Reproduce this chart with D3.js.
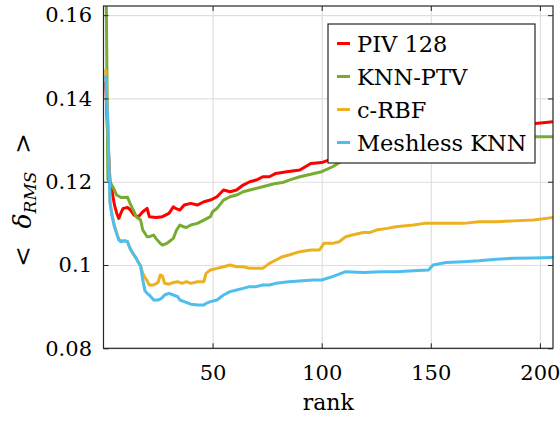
<!DOCTYPE html>
<html>
<head>
<meta charset="utf-8">
<script src="https://cdn.jsdelivr.net/npm/d3@7"></script>
<style>
  html, body { margin: 0; padding: 0; background: #fff; }
  svg { display: block; }
</style>
</head>
<body>
<svg id="chart" width="560" height="421"></svg>
<script>
// ---- data (rank, <delta_RMS>) ----
const seriesNames = ["PIV 128", "KNN-PTV", "c-RBF", "Meshless KNN"];
const seriesColors = ["#FF0000", "#77AC30", "#EDB120", "#4DBEEE"];

const piv128 = [[1,0.1440],[2,0.1300],[3,0.1200],[4,0.1175],[5,0.1145],[6,0.1125],[7,0.1112],[8,0.1125],[9,0.1136],[11,0.1138],[12,0.1134],[14,0.1120],[16,0.1116],[18,0.1128],[20,0.1136],[21,0.1116],[24,0.1114],[27,0.1116],[30,0.1124],[32,0.1140],[33,0.1136],[35,0.1132],[37,0.1144],[40,0.1148],[43,0.1144],[46,0.1152],[49,0.1156],[52,0.1164],[55,0.1180],[58,0.1176],[61,0.1180],[64,0.1192],[67,0.1200],[70,0.1204],[73,0.1212],[76,0.1212],[79,0.1220],[84,0.1224],[90,0.1228],[95,0.1244],[100,0.1246],[110,0.1265],[130,0.1290],[150,0.1310],[170,0.1325],[190,0.1335],[198,0.1340],[206,0.1344]];

const knnPtv = [[1,0.1800],[2,0.1205],[3,0.1200],[4,0.1190],[5,0.1180],[6,0.1168],[8,0.1162],[11,0.1163],[12,0.1150],[14,0.1128],[15,0.1116],[17,0.1108],[18,0.1084],[20,0.1068],[21,0.1068],[23,0.1072],[24,0.1064],[26,0.1052],[27,0.1048],[29,0.1052],[30,0.1056],[32,0.1064],[33.5,0.1084],[35,0.1096],[36.6,0.1092],[38,0.1090],[40,0.1096],[43,0.1100],[46,0.1108],[49,0.1116],[50,0.1128],[52,0.1136],[55,0.1156],[58,0.1164],[61,0.1168],[64,0.1176],[67,0.1180],[70,0.1184],[73,0.1188],[76,0.1192],[79,0.1196],[82,0.1198],[85,0.1204],[90,0.1212],[95,0.1218],[100,0.1224],[105,0.1236],[110,0.1252],[130,0.1275],[150,0.1290],[175,0.1302],[197,0.1308],[206,0.1308]];

const cRbf = [[1,0.1470],[2,0.1340],[3,0.1150],[4,0.1118],[5,0.1095],[6,0.1078],[7,0.1062],[8,0.1058],[10,0.1058],[11,0.1056],[12,0.1042],[13,0.1032],[15,0.1016],[16,0.1006],[17,0.0998],[18,0.0980],[19,0.0970],[20,0.0962],[21,0.0952],[23,0.0952],[25,0.0958],[26,0.0976],[27,0.0974],[28,0.0956],[30,0.0954],[32,0.0958],[34,0.0960],[36,0.0956],[38,0.0960],[40,0.0956],[43,0.0960],[46,0.0960],[47,0.0980],[49,0.0988],[52,0.0992],[55,0.0996],[58,0.1000],[61,0.0996],[64,0.0996],[67,0.0992],[70,0.0992],[73,0.0992],[76,0.1004],[79,0.1012],[82,0.1020],[85,0.1024],[90,0.1032],[95,0.1036],[99,0.1036],[101,0.1052],[105,0.1052],[108,0.1056],[111,0.1068],[114,0.1072],[119,0.1078],[122,0.1078],[125,0.1084],[130,0.1088],[134,0.1092],[142,0.1096],[147,0.1100],[157,0.1100],[165,0.1100],[172,0.1104],[180,0.1104],[188,0.1106],[197,0.1108],[203,0.1112],[206,0.1114]];

const meshlessKnn = [[1,0.1455],[2,0.1340],[3,0.1148],[4,0.1116],[5,0.1092],[6,0.1076],[7,0.1060],[8,0.1056],[10,0.1058],[11,0.1056],[12,0.1042],[13,0.1032],[15,0.1016],[16,0.1006],[17,0.0998],[18,0.0964],[19,0.0938],[20,0.0932],[21,0.0928],[23,0.0916],[25,0.0916],[26,0.0918],[27,0.0922],[28,0.0928],[30,0.0932],[32,0.0928],[34,0.0924],[35,0.0916],[37,0.0912],[40,0.0906],[43,0.0904],[46,0.0904],[47,0.0908],[49,0.0912],[52,0.0916],[55,0.0928],[58,0.0936],[61,0.0940],[64,0.0944],[67,0.0948],[70,0.0948],[73,0.0952],[76,0.0952],[79,0.0956],[85,0.0960],[96,0.0964],[100,0.0964],[105,0.0972],[111,0.0984],[119,0.0982],[127,0.0984],[134,0.0984],[142,0.0986],[149,0.0988],[151,0.1000],[157,0.1006],[165,0.1008],[172,0.1010],[180,0.1014],[188,0.1016],[197,0.1017],[206,0.1018]];

const xTicks = [50, 100, 150, 200];
const yTicks = [0.08, 0.1, 0.12, 0.14, 0.16];
const yTickLabels = ["0.08", "0.1", "0.12", "0.14", "0.16"];
const xDomain = [0, 206];
const yDomain = [0.08, 0.1622];

(function () {
const FONT = "DejaVu Serif";
const svg = d3.select("#chart");
const pl = 103.5, pr = 553, pt = 6, pb = 348.3;
const x = d3.scaleLinear().domain(xDomain).range([pl, pr]);
const y = d3.scaleLinear().domain(yDomain).range([pb, pt]);
const axisColor = "#262626";

svg.append("rect").attr("width", 560).attr("height", 421).attr("fill", "#fff");

// grid
svg.append("g").attr("transform", `translate(0,${pb})`)
  .call(d3.axisBottom(x).tickValues(xTicks).tickSize(-(pb - pt)).tickFormat(""))
  .call(g => g.select(".domain").remove())
  .call(g => g.selectAll("line").attr("stroke", "#dfdfdf").attr("stroke-width", 1.2));
svg.append("g").attr("transform", `translate(${pl},0)`)
  .call(d3.axisLeft(y).tickValues(yTicks).tickSize(-(pr - pl)).tickFormat(""))
  .call(g => g.select(".domain").remove())
  .call(g => g.selectAll("line").attr("stroke", "#dfdfdf").attr("stroke-width", 1.2));

// lines
svg.append("clipPath").attr("id", "plotclip")
  .append("rect").attr("x", pl).attr("y", pt).attr("width", pr - pl).attr("height", pb - pt);

const line = d3.line().x(d => x(d[0])).y(d => y(d[1]));
const allSeries = [piv128, knnPtv, cRbf, meshlessKnn];
const lg = svg.append("g").attr("clip-path", "url(#plotclip)");
allSeries.forEach((s, i) => {
  lg.append("path").datum(s).attr("d", line)
    .attr("fill", "none").attr("stroke", seriesColors[i])
    .attr("stroke-width", 3).attr("stroke-linejoin", "round").attr("stroke-linecap", "butt");
});

// axes
const tickLen = 5;
const fontSize = 21;
svg.append("g").attr("transform", `translate(0,${pb})`)
  .call(d3.axisBottom(x).tickValues(xTicks).tickSizeInner(-tickLen).tickSizeOuter(0).tickPadding(17))
  .attr("font-family", FONT).attr("font-size", fontSize)
  .call(g => g.select(".domain").remove())
  .call(g => g.selectAll("line").attr("stroke", axisColor))
  .call(g => g.selectAll("text").attr("fill", "#000"));
svg.append("g").attr("transform", `translate(${pl},0)`)
  .call(d3.axisLeft(y).tickValues(yTicks).tickFormat((d, i) => yTickLabels[i]).tickSizeInner(-tickLen).tickSizeOuter(0).tickPadding(11.5))
  .attr("font-family", FONT).attr("font-size", fontSize)
  .call(g => g.select(".domain").remove())
  .call(g => g.selectAll("line").attr("stroke", axisColor))
  .call(g => g.selectAll("text").attr("fill", "#000"));
svg.append("g").attr("transform", `translate(0,${pt})`)
  .call(d3.axisTop(x).tickValues(xTicks).tickSizeInner(-tickLen).tickSizeOuter(0).tickFormat(""))
  .call(g => g.select(".domain").remove())
  .call(g => g.selectAll("line").attr("stroke", axisColor));
svg.append("g").attr("transform", `translate(${pr},0)`)
  .call(d3.axisRight(y).tickValues(yTicks).tickSizeInner(-tickLen).tickSizeOuter(0).tickFormat(""))
  .call(g => g.select(".domain").remove())
  .call(g => g.selectAll("line").attr("stroke", axisColor));

svg.append("rect").attr("x", pl).attr("y", pt).attr("width", pr - pl).attr("height", pb - pt)
  .attr("fill", "none").attr("stroke", axisColor).attr("stroke-width", 1.2);

// axis labels
svg.append("text").attr("x", (pl + pr) / 2).attr("y", 410).attr("font-family", FONT)
  .attr("text-anchor", "middle").attr("font-size", 22).text("rank");

const yl = svg.append("text").attr("transform", "translate(31,200) rotate(-90)").attr("font-family", FONT)
  .attr("text-anchor", "middle").attr("font-size", 25);
yl.append("tspan").text("<\u2002\u2009");
yl.append("tspan").attr("font-style", "italic").text("δ");
yl.append("tspan").attr("font-style", "italic").attr("font-size", 17).attr("dy", 5).text("RMS");
yl.append("tspan").attr("dy", -5).text("\u2002\u2009>");

// legend
const legX = 328, legY = 24, legW = 207, legH = 139;
const leg = svg.append("g").attr("font-family", FONT);
leg.append("rect").attr("x", legX).attr("y", legY).attr("width", legW).attr("height", legH)
  .attr("fill", "#fff").attr("stroke", axisColor).attr("stroke-width", 1.2);
seriesNames.forEach((name, i) => {
  const cy = 43.5 + i * 33;
  leg.append("line").attr("x1", 337).attr("x2", 350).attr("y1", cy).attr("y2", cy)
    .attr("stroke", seriesColors[i]).attr("stroke-width", 3);
  leg.append("text").attr("x", 357).attr("y", cy + 8).attr("font-size", 22.5).text(name);
});
})();
</script>
</body>
</html>
